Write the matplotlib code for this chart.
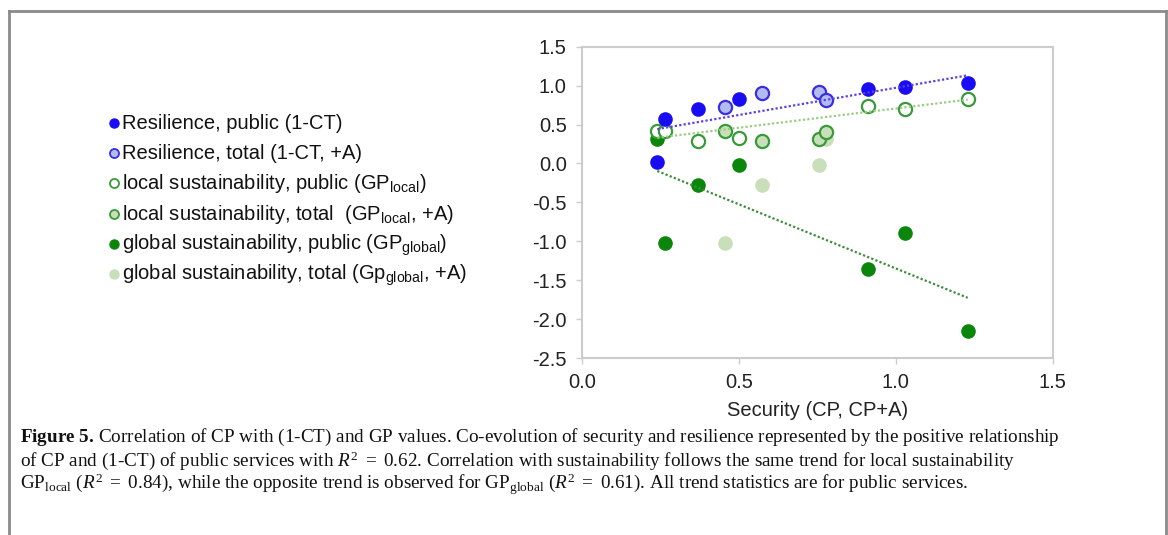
import numpy as np
import matplotlib
matplotlib.use("Agg")
import matplotlib.pyplot as plt
from matplotlib.lines import Line2D

plt.rcParams['font.family'] = ['Liberation Sans', 'DejaVu Sans']
plt.rcParams['mathtext.fontset'] = 'custom'
plt.rcParams['mathtext.rm'] = 'Liberation Serif'
plt.rcParams['mathtext.it'] = 'Liberation Serif:italic'
plt.rcParams['mathtext.bf'] = 'Liberation Serif:bold'

# public services (CP)
cp_public = [0.24, 0.264, 0.37, 0.50, 0.913, 1.03, 1.229]
res_public = [0.02, 0.57, 0.70, 0.83, 0.96, 0.98, 1.03]
local_public = [0.42, 0.42, 0.29, 0.33, 0.74, 0.70, 0.83]
global_public = [0.31, -1.02, -0.28, -0.02, -1.35, -0.89, -2.15]

# total (CP+A)
cp_total = [0.455, 0.574, 0.755, 0.778]
res_total = [0.72, 0.90, 0.92, 0.81]
local_total = [0.42, 0.29, 0.31, 0.40]
global_total = [-1.02, -0.28, -0.02, 0.31]

labels = ["Resilience, public (1-CT)",
          "Resilience, total (1-CT, +A)",
          r"local sustainability, public (GP$\mathregular{_{local}}$)",
          r"local sustainability, total  (GP$\mathregular{_{local}}$, +A)",
          r"global sustainability, public (GP$\mathregular{_{global}}$)",
          r"global sustainability, total (Gp$\mathregular{_{global}}$, +A)"]
# face, edge, edge width of each series
styles = [('#1a0cf2', '#1a0cf2', 1.0), ('#b3bcef', '#3a2ee0', 1.3),
          ('white', '#389a38', 1.3), ('#c9dfb9', '#389a38', 1.3),
          ('#0a860a', '#0a860a', 1.0), ('#c9dfb9', '#c9dfb9', 1.0)]

W, H = 1168, 535
fig = plt.figure(figsize=(W / 100, H / 100), dpi=100)
ax = fig.add_axes([582 / W, 1 - 358 / H, 470.7 / W, 311.3 / H])

s = 90
ax.scatter(cp_public, global_public, s=s, c='#0a860a', edgecolors='#0a860a', lw=1, zorder=3)
ax.scatter(cp_total, global_total, s=s, c='#c9dfb9', edgecolors='#c9dfb9', lw=1, zorder=3)
ax.scatter(cp_public, local_public, s=s, c='white', edgecolors='#389a38', lw=1.6, zorder=4)
ax.scatter(cp_total, local_total, s=s, c='#c9dfb9', edgecolors='#389a38', lw=1.6, zorder=4)
ax.scatter(cp_total, res_total, s=s, c='#b3bcef', edgecolors='#3a2ee0', lw=1.6, zorder=5)
ax.scatter(cp_public, res_public, s=s, c='#1a0cf2', edgecolors='#1a0cf2', lw=1, zorder=5)

# linear trends for public services
xs = np.linspace(min(cp_public), max(cp_public), 50)
for yv, col in [(res_public, '#5a40e8'), (local_public, '#9ccc84'), (global_public, '#3c8c3c')]:
    k, b = np.polyfit(cp_public, yv, 1)
    ax.plot(xs, k * xs + b, color=col, lw=1.6, ls=(0, (1, 1)), zorder=6)

ax.set_xlim(0, 1.5)
ax.set_ylim(-2.5, 1.5)
ax.set_xticks([0, 0.5, 1.0, 1.5])
ax.set_yticks(np.arange(-2.5, 1.51, 0.5))
ax.xaxis.set_major_formatter(matplotlib.ticker.FormatStrFormatter('%.1f'))
ax.yaxis.set_major_formatter(matplotlib.ticker.FormatStrFormatter('%.1f'))
for sp in ax.spines.values():
    sp.set_color('#cccccc')
    sp.set_linewidth(1.5)
ax.tick_params(axis='both', direction='out', length=4, width=1, color='#cccccc',
               labelsize=14.5, labelcolor='#222222', pad=7)
ax.set_xlabel("Security (CP, CP+A)", fontsize=14.5, color='#222222', labelpad=6)

# legend rows, drawn by hand so that they are evenly spaced
for i, (lab, (fc_, ec_, ew)) in enumerate(zip(labels, styles)):
    yc = 123 + 30.2 * i
    fig.add_artist(Line2D([113.5 / W], [1 - yc / H], ls='', marker='o', ms=6.5,
                          mfc=fc_, mec=ec_, mew=ew, transform=fig.transFigure))
    fig.text(122 / W, 1 - (yc + 6) / H, lab, fontsize=14.5, color='#111111',
             va='baseline', ha='left')

# figure frame
fc = '#8a8a8a'
fig.add_artist(Line2D([0.0075, 0.0075], [0, 0.98], color=fc, lw=2, transform=fig.transFigure))
fig.add_artist(Line2D([0.0075, 0.998], [0.98, 0.98], color=fc, lw=2, transform=fig.transFigure))
fig.add_artist(Line2D([0.998, 0.998], [0, 0.98], color=fc, lw=2, transform=fig.transFigure))

cap = [r"$\mathbf{Figure\ 5.}\,$Correlation of CP with (1-CT) and GP values. Co-evolution of security and resilience represented by the positive relationship",
       r"of CP and (1-CT) of public services with $\mathit{R}^{2}\ =\ 0.62$. Correlation with sustainability follows the same trend for local sustainability",
       r"GP$_{\mathrm{local}}$ ($\mathit{R}^{2}\ =\ 0.84$), while the opposite trend is observed for GP$_{\mathrm{global}}$ ($\mathit{R}^{2}\ =\ 0.61$). All trend statistics are for public services."]
for i, line in enumerate(cap):
    fig.text(20 / W, 1 - (442 + 23.5 * i) / H, line, family='Liberation Serif',
             fontsize=13.8, va='baseline', ha='left', color='#111111')

fig.savefig("out.png", dpi=100)
